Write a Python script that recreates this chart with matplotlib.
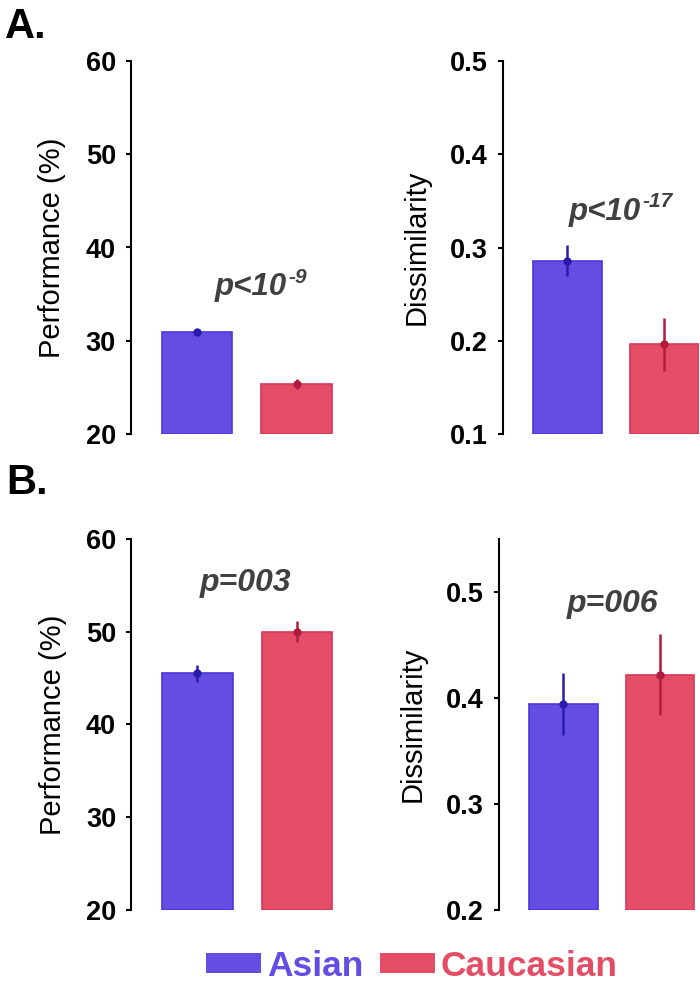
import numpy as np
import matplotlib
matplotlib.use('Agg')
import matplotlib.pyplot as plt
from matplotlib.patches import Patch

plt.rcParams['font.family'] = ['Liberation Sans', 'DejaVu Sans']

groups = ['Asian', 'Caucasian']

# A. performance / dissimilarity
perfA = [30.9, 25.35]
perfA_err = [0.3, 0.5]
dissA = [0.286, 0.196]
dissA_err = [0.017, 0.028]

# B. performance / dissimilarity
perfB = [45.5, 50.0]
perfB_err = [0.9, 1.1]
dissB = [0.394, 0.422]
dissB_err = [0.029, 0.038]

fill_cols = ['#654ce3', '#e34d66']
edge_cols = ['#4a36d9', '#d8375a']
err_cols = ['#2a1cab', '#b01c3e']
ptext_col = '#404040'

W, H = 700, 981
fig = plt.figure(figsize=(W / 100, H / 100), dpi=100)


def make_ax(spine_px, top_px, bot_px, spacing, right_lim):
    left_lim = -0.67
    width_px = (right_lim - left_lim) * spacing
    ax = fig.add_axes([spine_px / W, 1 - bot_px / H, width_px / W, (bot_px - top_px) / H])
    ax.set_xlim(left_lim, right_lim)
    return ax


def draw(ax, vals, errs, ylim, yticks, ylabel, fmt):
    x = np.arange(len(vals))
    ax.bar(x, [v - ylim[0] for v in vals], bottom=ylim[0], width=0.71,
           color=fill_cols, edgecolor=edge_cols, linewidth=1.2)
    for i in range(len(vals)):
        ax.errorbar(x[i], vals[i], yerr=errs[i], fmt='o', color=err_cols[i],
                    markersize=5, elinewidth=1.8, capsize=0)
    ax.set_ylim(*ylim)
    ax.set_yticks(yticks)
    ax.set_yticklabels([fmt.format(t) for t in yticks], fontsize=19.5, fontweight='bold')
    ax.set_xticks([])
    for s in ['top', 'right', 'bottom']:
        ax.spines[s].set_visible(False)
    ax.spines['left'].set_linewidth(1.5)
    ax.tick_params(axis='y', length=3.5, width=1.5, pad=7)
    ax.set_ylabel(ylabel, fontsize=21, labelpad=14)


def p_power(ax, x, y, base, expo):
    # main part ends at x, exponent raised on the right
    ax.text(x, y, base, fontsize=22.5, fontweight='bold', fontstyle='italic',
            color=ptext_col, ha='right', va='baseline')
    ax.annotate(expo, xy=(x, y), xytext=(1, 9), textcoords='offset points',
                fontsize=15, fontweight='bold', fontstyle='italic',
                color=ptext_col, ha='left', va='baseline')


def p_plain(ax, x, y, txt):
    ax.text(x, y, txt, fontsize=23, fontweight='bold', fontstyle='italic',
            color=ptext_col, ha='center', va='baseline')


axA1 = make_ax(130.5, 61, 434, 99.5, 1.45)
draw(axA1, perfA, perfA_err, (20, 60), [20, 30, 40, 50, 60], 'Performance (%)', '{:.0f}')
p_power(axA1, 0.9, 34.9, 'p<10', '-9')

axA2 = make_ax(502.7, 61, 434, 96.7, 1.36)
draw(axA2, dissA, dissA_err, (0.1, 0.5), [0.1, 0.2, 0.3, 0.4, 0.5], 'Dissimilarity', '{:.1f}')
p_power(axA2, 0.763, 0.3295, 'p<10', '-17')

axB1 = make_ax(130.8, 538.6, 910.3, 99.5, 1.45)
draw(axB1, perfB, perfB_err, (20, 60), [20, 30, 40, 50, 60], 'Performance (%)', '{:.0f}')
p_plain(axB1, 0.48, 54.4, 'p=003')

axB2 = make_ax(498.7, 538.6, 910.3, 96.5, 1.38)
draw(axB2, dissB, dissB_err, (0.2, 0.55), [0.2, 0.3, 0.4, 0.5], 'Dissimilarity', '{:.1f}')
p_plain(axB2, 0.51, 0.481, 'p=006')

fig.text(5 / W, 1 - 38 / H, 'A.', fontsize=30, fontweight='bold', va='baseline')
fig.text(6 / W, 1 - 494 / H, 'B.', fontsize=30, fontweight='bold', va='baseline')

handles = [Patch(facecolor=fill_cols[i], edgecolor='none') for i in range(2)]
leg = fig.legend(handles, groups, loc='lower center', bbox_to_anchor=(412 / W, -23 / H),
                 ncol=2, frameon=False, handlelength=1.55, handleheight=0.5,
                 handletextpad=0.18, columnspacing=0.45, borderpad=0.1,
                 prop={'size': 25.5, 'weight': 'bold'})
for txt, c in zip(leg.get_texts(), fill_cols):
    txt.set_color(c)

plt.savefig('out.png', dpi=100)
